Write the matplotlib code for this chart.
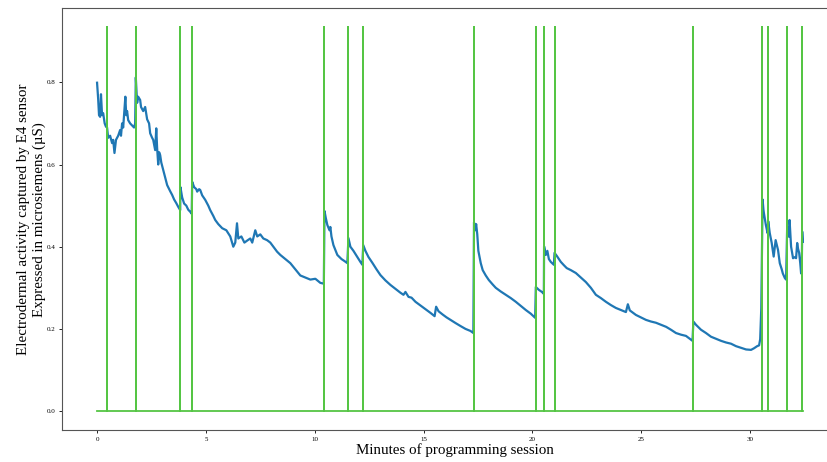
import matplotlib.pyplot as plt

plt.rcParams['font.family'] = ['Liberation Serif', 'DejaVu Serif']

# EDA signal (minutes, microsiemens)
minutes = [
    0.00, 0.05, 0.09, 0.14, 0.16, 0.18, 0.23, 0.28, 0.35, 0.41,
    0.46, 0.51, 0.60, 0.69, 0.74, 0.80, 0.87, 0.97, 1.06, 1.10,
    1.15, 1.20, 1.24, 1.30, 1.34, 1.38, 1.43, 1.52, 1.61, 1.70,
    1.75, 1.78, 1.82, 1.84, 1.89, 1.98, 2.02, 2.12, 2.21, 2.30,
    2.39, 2.44, 2.53, 2.58, 2.67, 2.72, 2.76, 2.81, 2.85, 2.90,
    2.95, 3.04, 3.13, 3.22, 3.36, 3.45, 3.54, 3.64, 3.73, 3.82,
    3.83, 3.91, 4.00, 4.10, 4.19, 4.28, 4.35, 4.37, 4.46, 4.56,
    4.60, 4.69, 4.74, 4.83, 4.97, 5.11, 5.20, 5.34, 5.43, 5.57,
    5.75, 5.94, 6.12, 6.26, 6.35, 6.43, 6.49, 6.63, 6.77, 6.90,
    7.04, 7.13, 7.27, 7.36, 7.50, 7.64, 7.81, 7.96, 8.10, 8.27,
    8.42, 8.65, 8.88, 9.11, 9.34, 9.57, 9.80, 10.03, 10.26, 10.42,
    10.45, 10.51, 10.58, 10.68, 10.72, 10.77, 10.86, 11.04, 11.23, 11.37,
    11.50, 11.55, 11.64, 11.78, 11.92, 12.10, 12.19, 12.23, 12.33, 12.47,
    12.66, 12.84, 13.02, 13.25, 13.48, 13.72, 13.94, 14.08, 14.17, 14.31,
    14.45, 14.63, 14.86, 15.09, 15.32, 15.51, 15.58, 15.69, 15.88, 16.06,
    16.24, 16.48, 16.70, 16.93, 17.16, 17.29, 17.32, 17.37, 17.42, 17.47,
    17.52, 17.63, 17.72, 17.86, 18.00, 18.18, 18.32, 18.55, 18.78, 19.01,
    19.24, 19.47, 19.70, 19.93, 20.13, 20.16, 20.30, 20.44, 20.53, 20.54,
    20.62, 20.69, 20.76, 20.85, 20.99, 21.02, 21.12, 21.31, 21.45, 21.58,
    21.77, 22.00, 22.23, 22.46, 22.69, 22.92, 23.15, 23.38, 23.61, 23.84,
    24.07, 24.30, 24.39, 24.48, 24.76, 24.99, 25.22, 25.45, 25.68, 25.91,
    26.15, 26.37, 26.60, 26.83, 27.06, 27.24, 27.36, 27.40, 27.52, 27.75,
    27.98, 28.21, 28.44, 28.67, 28.90, 29.13, 29.36, 29.59, 29.82, 30.05,
    30.19, 30.33, 30.42, 30.47, 30.52, 30.58, 30.62, 30.64, 30.69, 30.73,
    30.78, 30.81, 30.84, 30.91, 31.00, 31.09, 31.18, 31.29, 31.37, 31.46,
    31.51, 31.60, 31.66, 31.71, 31.75, 31.80, 31.82, 31.89, 31.98, 32.08,
    32.12, 32.17, 32.21, 32.26, 32.31, 32.35, 32.38, 32.40, 32.43,
]
eda = [
    0.799, 0.760, 0.720, 0.716, 0.740, 0.771, 0.720, 0.725, 0.700, 0.692,
    0.690, 0.665, 0.670, 0.652, 0.660, 0.628, 0.660, 0.670, 0.684, 0.670,
    0.700, 0.690, 0.720, 0.765, 0.720, 0.730, 0.708, 0.700, 0.695, 0.690,
    0.700, 0.812, 0.770, 0.750, 0.765, 0.757, 0.740, 0.730, 0.740, 0.710,
    0.700, 0.676, 0.665, 0.660, 0.635, 0.688, 0.640, 0.600, 0.630, 0.623,
    0.605, 0.587, 0.570, 0.550, 0.535, 0.526, 0.515, 0.506, 0.497, 0.489,
    0.545, 0.520, 0.505, 0.500, 0.490, 0.485, 0.480, 0.558, 0.545, 0.540,
    0.534, 0.540, 0.538, 0.525, 0.514, 0.500, 0.489, 0.475, 0.465, 0.455,
    0.445, 0.440, 0.425, 0.400, 0.410, 0.457, 0.420, 0.425, 0.410, 0.415,
    0.420, 0.410, 0.440, 0.425, 0.430, 0.420, 0.416, 0.410, 0.400, 0.388,
    0.380, 0.370, 0.360, 0.345, 0.330, 0.325, 0.320, 0.322, 0.312, 0.310,
    0.487, 0.470, 0.453, 0.440, 0.448, 0.425, 0.404, 0.380, 0.370, 0.365,
    0.360, 0.421, 0.400, 0.390, 0.378, 0.363, 0.356, 0.404, 0.390, 0.375,
    0.360, 0.345, 0.331, 0.318, 0.307, 0.297, 0.288, 0.283, 0.290, 0.278,
    0.276, 0.266, 0.257, 0.248, 0.239, 0.231, 0.254, 0.243, 0.235, 0.228,
    0.222, 0.214, 0.207, 0.200, 0.195, 0.190, 0.459, 0.440, 0.455, 0.430,
    0.390, 0.360, 0.343, 0.330, 0.319, 0.308, 0.300, 0.291, 0.283, 0.275,
    0.266, 0.256, 0.246, 0.237, 0.227, 0.302, 0.295, 0.290, 0.285, 0.401,
    0.380, 0.390, 0.370, 0.363, 0.356, 0.385, 0.378, 0.363, 0.355, 0.348,
    0.343, 0.336, 0.325, 0.314, 0.300, 0.283, 0.275, 0.266, 0.258, 0.251,
    0.246, 0.241, 0.260, 0.245, 0.234, 0.228, 0.222, 0.218, 0.215, 0.210,
    0.205, 0.198, 0.190, 0.186, 0.183, 0.176, 0.171, 0.218, 0.210, 0.198,
    0.190, 0.181, 0.176, 0.171, 0.167, 0.164, 0.158, 0.154, 0.150, 0.149,
    0.153, 0.158, 0.160, 0.175, 0.250, 0.515, 0.490, 0.482, 0.465, 0.453,
    0.440, 0.433, 0.462, 0.433, 0.409, 0.376, 0.416, 0.392, 0.360, 0.345,
    0.335, 0.324, 0.320, 0.449, 0.430, 0.424, 0.465, 0.400, 0.372, 0.375,
    0.372, 0.409, 0.395, 0.385, 0.360, 0.335, 0.348, 0.437, 0.412,
]

# moments where a programming event was logged
events = [0.45, 1.78, 3.83, 4.37, 10.45, 11.55, 12.23, 17.32, 20.16, 20.54,
          21.02, 27.40, 30.56, 30.82, 31.69, 32.38]
event_height = 0.934
session_end = 32.43

# event marker signal: flat zero with a spike at each event
ev_x = [0.0]
ev_y = [0.0]
for t in events:
    ev_x += [t, t, t]
    ev_y += [0.0, event_height, 0.0]
ev_x.append(session_end)
ev_y.append(0.0)

fig = plt.figure(figsize=(8.27, 4.62), dpi=100)
ax = fig.add_axes([0.075, 0.0686, 0.95, 0.914])

ax.plot(minutes, eda, color='#1f77b4', linewidth=1.6)
ax.plot(ev_x, ev_y, color='#55c544', linewidth=1.3)

ax.set_xlim(-1.61, 34.49)
ax.set_yticks([0.0, 0.2, 0.4, 0.6, 0.8])
ax.set_xticks([0, 5, 10, 15, 20, 25, 30])
ax.tick_params(labelsize=5, length=2.5, width=0.6, pad=2)
for s in ax.spines.values():
    s.set_color('#555555')

ax.set_xlabel('Minutes of programming session', fontsize=10.8, labelpad=1)
ax.set_ylabel('Electrodermal activity captured by E4 sensor\nExpressed in microsiemens (µS)', fontsize=10.8)
ax.yaxis.set_label_coords(-0.021, 0.5)

fig.savefig('out.png', dpi=100)
